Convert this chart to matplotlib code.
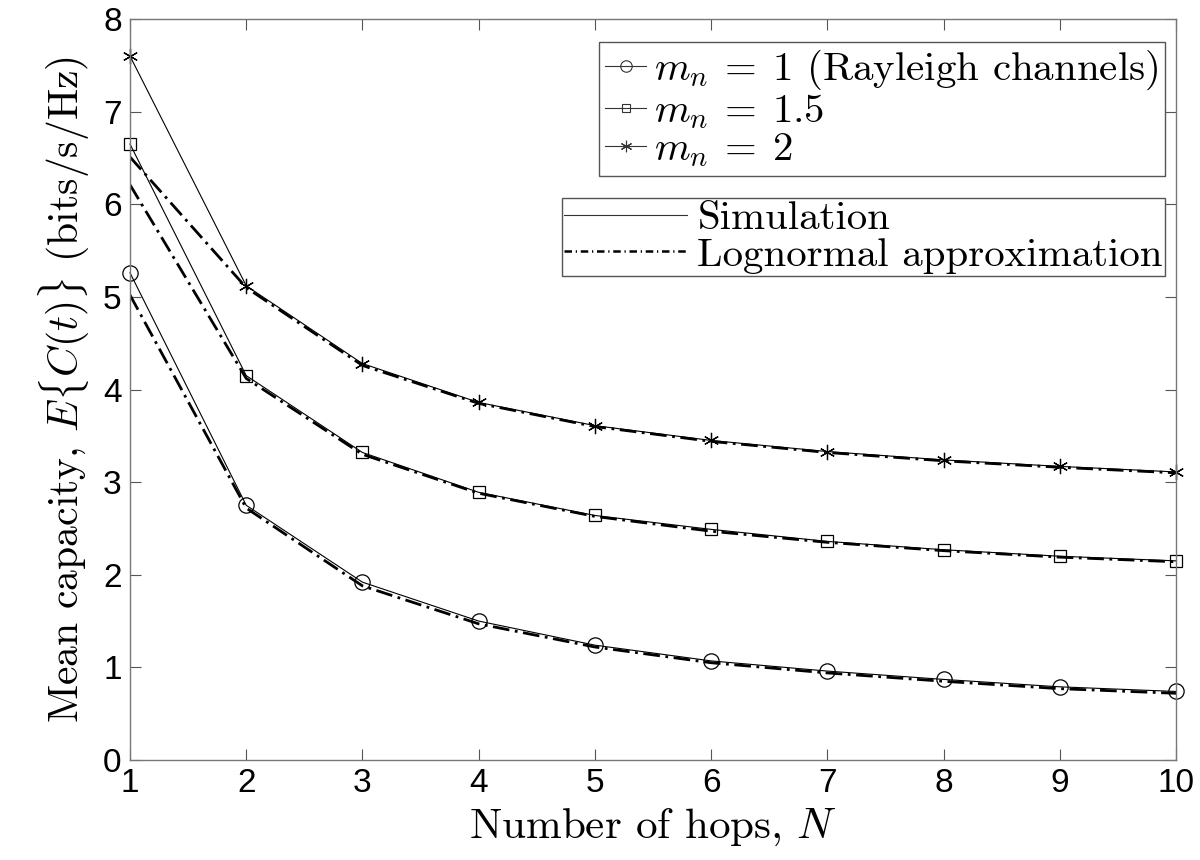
import matplotlib
matplotlib.use('Agg')
import matplotlib.pyplot as plt
from matplotlib.lines import Line2D

plt.rcParams['font.family'] = 'serif'
plt.rcParams['font.serif'] = ['cmr10']
plt.rcParams['mathtext.fontset'] = 'cm'
plt.rcParams['axes.unicode_minus'] = False

hops = [1, 2, 3, 4, 5, 6, 7, 8, 9, 10]

sim_m1 = [5.26, 2.75, 1.92, 1.50, 1.24, 1.07, 0.96, 0.87, 0.79, 0.74]
sim_m15 = [6.65, 4.15, 3.32, 2.89, 2.64, 2.49, 2.36, 2.27, 2.20, 2.15]
sim_m2 = [7.60, 5.12, 4.28, 3.86, 3.61, 3.45, 3.33, 3.24, 3.17, 3.11]

logn_m1 = [5.02, 2.72, 1.88, 1.47, 1.22, 1.05, 0.94, 0.85, 0.77, 0.72]
logn_m15 = [6.21, 4.12, 3.30, 2.88, 2.63, 2.47, 2.35, 2.26, 2.19, 2.14]
logn_m2 = [6.51, 5.10, 4.26, 3.85, 3.60, 3.44, 3.32, 3.23, 3.16, 3.10]

series_labels = [r'$m_n\:=\:1$ (Rayleigh channels)', r'$m_n\:=\:1.5$', r'$m_n\:=\:2$']

fig = plt.figure(figsize=(12, 8.6), dpi=100)
ax = fig.add_axes([130 / 1200, 1 - 760 / 860, 1046 / 1200, 741 / 860])

star = (6, 2, 0)
markers = ['o', 's', star]
msizes = [11, 8.5, 11]
sims = [sim_m1, sim_m15, sim_m2]
logns = [logn_m1, logn_m15, logn_m2]

for s, l, mk, ms in zip(sims, logns, markers, msizes):
    ax.plot(hops, l, color='black', linestyle=(0, (6, 2, 1, 2)), linewidth=2.0)
    ax.plot(hops, s, color='black', linewidth=0.8, marker=mk, markersize=ms,
            markerfacecolor='none', markeredgewidth=0.9, clip_on=False)

ax.set_xlim(1, 10)
ax.set_ylim(0, 8)
ax.set_xticks(hops)
ax.set_yticks(range(0, 9))
ax.tick_params(direction='in', length=8, width=0.8, color='#555555',
               top=True, right=True, labelsize=24, pad=6)
for lab in ax.get_xticklabels() + ax.get_yticklabels():
    lab.set_fontfamily('Liberation Sans')
for sp in ax.spines.values():
    sp.set_color('#777777')
    sp.set_linewidth(1.0)

ax.set_xlabel(r'Number of hops, $N$', fontsize=31, labelpad=5)
ax.set_ylabel(r'Mean capacity, $E\{C(t)\}$ (bits/s/Hz)', fontsize=30, labelpad=8)

h1 = [Line2D([], [], color='#333333', linewidth=0.8, marker=mk, markersize=ms * 0.75,
             markerfacecolor='none', markeredgewidth=0.8)
      for mk, ms in zip(markers, msizes)]
leg1 = ax.legend(h1, series_labels, loc='upper right', bbox_to_anchor=(0.9895, 0.969),
                 fontsize=29.5, handlelength=1.0, handletextpad=0.2, borderpad=0.15,
                 labelspacing=0.0, fancybox=False, framealpha=1, edgecolor='#555555',
                 borderaxespad=0)
leg1.get_frame().set_linewidth(1.0)
ax.add_artist(leg1)

h2 = [Line2D([], [], color='#333333', linewidth=0.8),
      Line2D([], [], color='black', linewidth=1.8, linestyle=(0, (3, 1.5, 0.5, 1.5)))]
leg2 = ax.legend(h2, ['Simulation', 'Lognormal approximation'], loc='upper right',
                 bbox_to_anchor=(0.9895, 0.758), fontsize=29.5, handlelength=3.0,
                 handletextpad=0.25, borderpad=0.05, labelspacing=0.0, fancybox=False,
                 framealpha=1, edgecolor='#555555', borderaxespad=0)
leg2.get_frame().set_linewidth(1.0)

fig.savefig('out.png', dpi=100)
